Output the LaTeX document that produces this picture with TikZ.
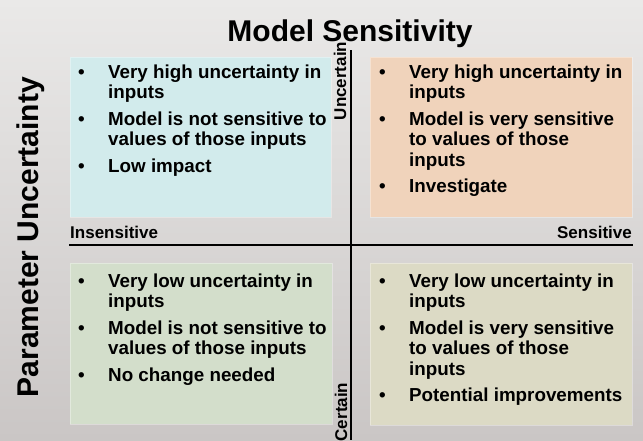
\documentclass[tikz,border=0pt]{standalone}
\usepackage{fontspec}
\setmainfont{Liberation Sans}
\usepackage{tikz}
\pgfdeclarelayer{boxlayer}
\pgfdeclarelayer{textlayer}
\pgfsetlayers{boxlayer,main,textlayer}
\definecolor{bgtop}{RGB}{234,233,232}
\definecolor{bgbottom}{RGB}{202,198,197}
\definecolor{boxcyan}{RGB}{210,235,236}
\definecolor{boxpeach}{RGB}{240,211,187}
\definecolor{boxgreen}{RGB}{211,222,203}
\definecolor{boxkhaki}{RGB}{220,218,197}
\tikzstyle{quadrant}=[rectangle,inner sep=0pt,anchor=north west,draw=white,line width=0.6pt,draw opacity=0.35]
\tikzstyle{bullets}=[anchor=base west,inner sep=0pt,font={\fontsize{18.8}{20.5}\selectfont\bfseries}]
\tikzstyle{axislabel}=[inner sep=0pt,font={\fontsize{17}{20}\selectfont\bfseries}]
\tikzstyle{heading}=[inner sep=0pt,anchor=base,font={\fontsize{30}{34}\selectfont\bfseries}]
\tikzstyle{axis}=[line width=2pt,draw=black]
\newcommand{\bulletrows}[1]{\begin{tabular}[t]{@{}p{30pt}@{}l@{}}#1\end{tabular}}

\begin{document}
\begin{tikzpicture}[x=1pt,y=-1pt]
	\useasboundingbox (0,0) rectangle (643,440);
	\begin{pgfonlayer}{boxlayer}
		\shade [top color=bgtop,bottom color=bgbottom] (0,0) rectangle (643,440);
		\node [style=quadrant,fill=boxcyan,minimum width=261pt,minimum height=160pt] (tl) at (70,57) {};
		\node [style=quadrant,fill=boxpeach,minimum width=262pt,minimum height=160pt] (tr) at (370,57) {};
		\node [style=quadrant,fill=boxgreen,minimum width=262pt,minimum height=161pt] (bl) at (70,263) {};
		\node [style=quadrant,fill=boxkhaki,minimum width=262pt,minimum height=162pt] (br) at (370,263) {};
	\end{pgfonlayer}
	\begin{pgfonlayer}{textlayer}
		\node [style=heading] (title) at (350,41) {Model Sensitivity};
		\node [style=heading,rotate=90] (param) at (38,237) {Parameter Uncertainty};
		\node [style=axislabel,anchor=base west] (insens) at (70,238) {Insensitive};
		\node [style=axislabel,anchor=base east] (sens) at (632,238) {Sensitive};
		\node [style=axislabel,anchor=base,rotate=90] (unc) at (346,81) {Uncertain};
		\node [style=axislabel,anchor=base,rotate=90] (cert) at (347,412) {Certain};
		\node [style=bullets] (tlitems) at (78,78) {\bulletrows{%
			\textbullet & Very high uncertainty in\\ & inputs\\[6pt]
			\textbullet & Model is not sensitive to\\ & values of those inputs\\[6pt]
			\textbullet & Low impact}};
		\node [style=bullets] (tritems) at (379,78) {\bulletrows{%
			\textbullet & Very high uncertainty in\\ & inputs\\[6pt]
			\textbullet & Model is very sensitive\\ & to values of those\\ & inputs\\[6pt]
			\textbullet & Investigate}};
		\node [style=bullets] (blitems) at (78,287) {\bulletrows{%
			\textbullet & Very low uncertainty in\\ & inputs\\[6pt]
			\textbullet & Model is not sensitive to\\ & values of those inputs\\[6pt]
			\textbullet & No change needed}};
		\node [style=bullets] (britems) at (379,287) {\bulletrows{%
			\textbullet & Very low uncertainty in\\ & inputs\\[6pt]
			\textbullet & Model is very sensitive\\ & to values of those\\ & inputs\\[6pt]
			\textbullet & Potential improvements}};
	\end{pgfonlayer}
	\coordinate (hleft) at (69,244.5);
	\coordinate (hright) at (633,244.5);
	\coordinate (vtop) at (350.7,50);
	\coordinate (vbottom) at (350.7,440);
	\draw [style=axis] (hleft) -- (hright);
	\draw [style=axis] (vtop) -- (vbottom);
\end{tikzpicture}
\end{document}
